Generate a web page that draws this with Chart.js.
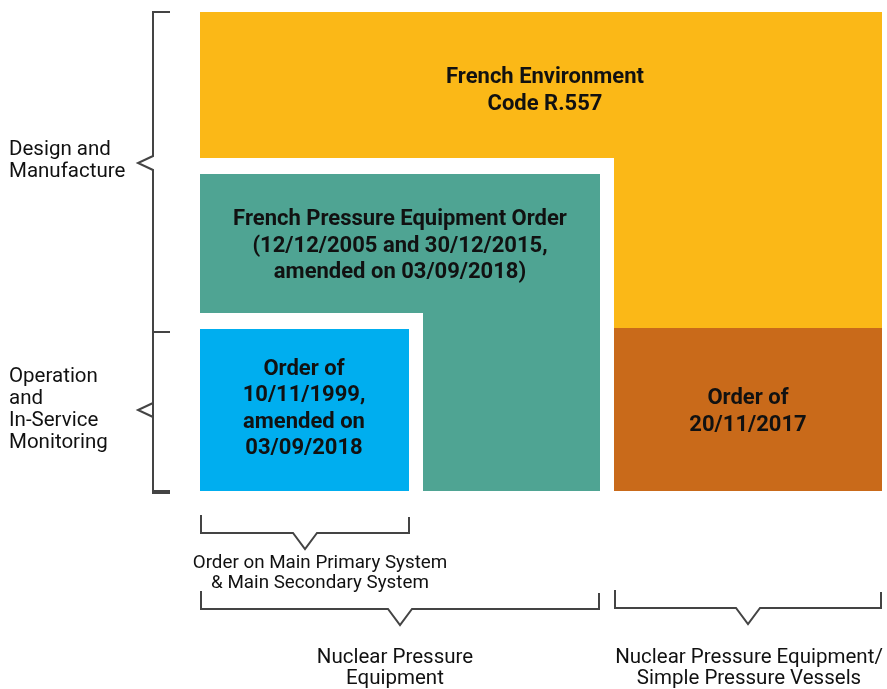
<!DOCTYPE html>
<html lang="en">
<head>
	<meta charset="UTF-8">
	<title>pressure equipment regulations</title>
	<style>
		body { margin: 0; background: #fff; }
	</style>
</head>
<body>

<canvas id="myChart" width="887" height="689"></canvas>

<script src="https://cdn.jsdelivr.net/npm/chart.js@4/dist/chart.umd.min.js"></script>
<script>
// diagram units: x 0..682 across the boxes, y 0..479 from bottom of boxes up
var envCode = [[0,479],[682,479],[682,163],[414,163],[414,333],[0,333],[0,479]];
var pressureOrder = [[0,317],[400,317],[400,0],[223,0],[223,178],[0,178],[0,317]];
var order1999 = [[0,0],[209,0],[209,162],[0,162],[0,0]];
var order2017 = [[414,0],[682,0],[682,163],[414,163],[414,0]];

var boxNames = ['French Environment|Code R.557',
	'French Pressure Equipment Order|(12/12/2005 and 30/12/2015,|amended on 03/09/2018)',
	'Order of|10/11/1999,|amended on|03/09/2018',
	'Order of|20/11/2017'];
var boxColors = ['#fbb817', '#4fa493', '#00aeef', '#c96a1a'];
var boxLabelPos = [[345,400], [200,245], [104,82], [548,79]];

// brackets: left side (rows) and bottom (columns)
var rowNames = ['Design and|Manufacture', 'Operation|and|In-Service|Monitoring'];
var rowSpans = [[0,479], [-2,159]];
var rowTip = [328, 81];
var rowLabelY = [330, 81];
var colNames = ['Order on Main Primary System|& Main Secondary System',
	'Nuclear Pressure|Equipment',
	'Nuclear Pressure Equipment/|Simple Pressure Vessels'];
var colSpans = [[1,209], [1,399], [415,681]];
var colLevel = [-42, -118, -117];
var colLabelX = [120, 195, 549];
var colLabelY = [-82, -177, -177];

function pts(arr) {
	return arr.map(function(p) { return {x: p[0], y: p[1]}; });
}

var datasets = [];
[envCode, pressureOrder, order1999, order2017].forEach(function(shape, i) {
	datasets.push({
		data: pts(shape),
		showLine: true,
		fill: 'shape',
		backgroundColor: boxColors[i],
		borderWidth: 0,
		borderColor: 'rgba(0,0,0,0)',
		pointRadius: 0
	});
});

var bracketStyle = {
	showLine: true, fill: false, borderColor: '#444', borderWidth: 2,
	pointRadius: 0, clip: false
};

rowSpans.forEach(function(s, i) {
	var x = -47, mid = rowTip[i];
	datasets.push(Object.assign({
		data: pts([[-30, s[1]], [x, s[1]], [x, mid + 7], [-62, mid], [x, mid - 7], [x, s[0]], [-30, s[0]]])
	}, bracketStyle));
});

colSpans.forEach(function(s, i) {
	var y = colLevel[i], mid = (s[0] + s[1]) / 2;
	datasets.push(Object.assign({
		data: pts([[s[0], y + 18], [s[0], y], [mid - 12, y], [mid, y - 16], [mid + 12, y], [s[1], y], [s[1], y + 16]])
	}, bracketStyle));
});

var labelPlugin = {
	id: 'labels',
	afterDatasetsDraw: function(chart) {
		var c = chart.ctx, xs = chart.scales.x, ys = chart.scales.y;
		function lines(text, x, y, lh, font, align) {
			var parts = text.split('|');
			c.font = font;
			c.fillStyle = '#111';
			c.textAlign = align;
			c.textBaseline = 'middle';
			var top = y - (parts.length - 1) * lh / 2;
			parts.forEach(function(t, k) { c.fillText(t, x, top + k * lh); });
		}
		c.save();
		boxNames.forEach(function(t, i) {
			lines(t, xs.getPixelForValue(boxLabelPos[i][0]), ys.getPixelForValue(boxLabelPos[i][1]),
				26.5, 'bold 22px Roboto', 'center');
		});
		rowNames.forEach(function(t, i) {
			lines(t, 9, ys.getPixelForValue(rowLabelY[i]), 22, '20.5px Roboto', 'left');
		});
		colNames.forEach(function(t, i) {
			var size = i == 0 ? '18.8px' : '20.5px';
			var lh = i == 0 ? 20 : 21;
			lines(t, xs.getPixelForValue(colLabelX[i]), ys.getPixelForValue(colLabelY[i]), lh, size + ' Roboto', 'center');
		});
		c.restore();
	}
};

var ctx = document.getElementById('myChart').getContext('2d');
var chart = new Chart(ctx, {
	type: 'scatter',
	data: { datasets: datasets },
	options: {
		responsive: false,
		animation: false,
		events: [],
		layout: { padding: { left: 200, right: 5, top: 12, bottom: 198 } },
		scales: {
			x: { type: 'linear', min: 0, max: 682, display: false },
			y: { type: 'linear', min: 0, max: 479, display: false }
		},
		plugins: { legend: { display: false }, tooltip: { enabled: false } }
	},
	plugins: [labelPlugin]
});
</script>
</body>
</html>
